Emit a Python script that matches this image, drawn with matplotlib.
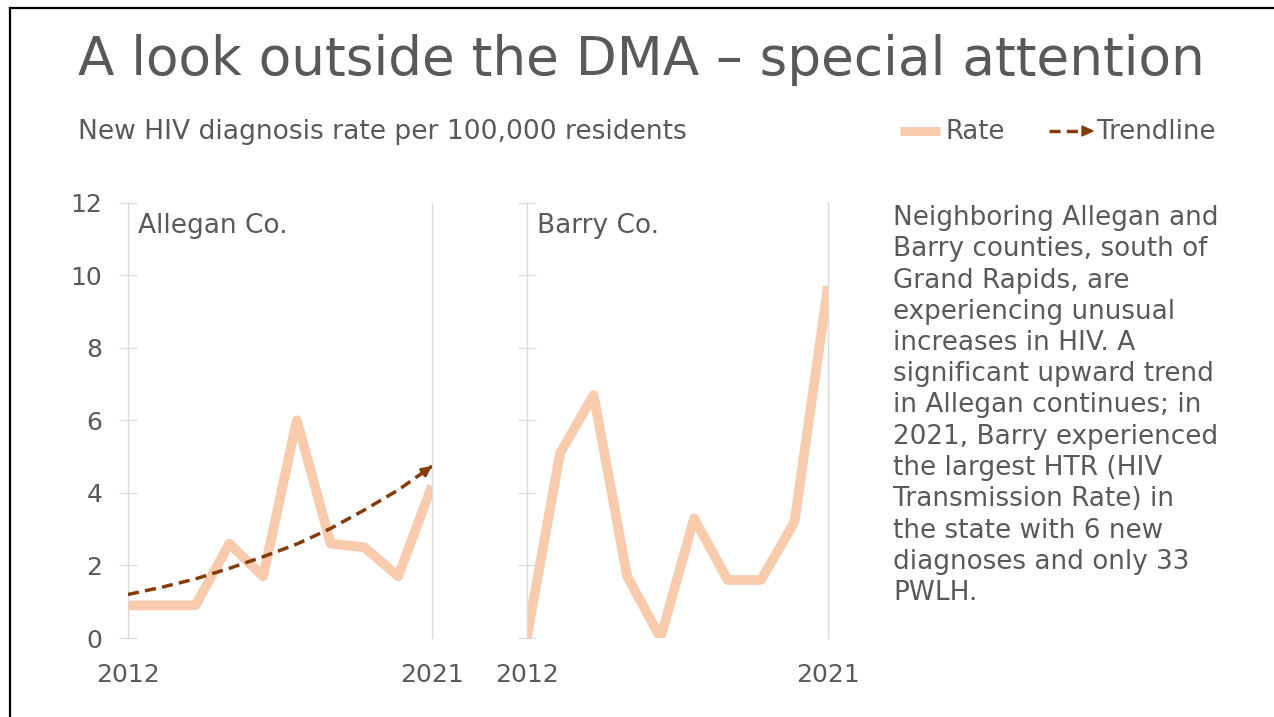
import matplotlib
matplotlib.use("Agg")
import matplotlib.pyplot as plt
from matplotlib.lines import Line2D

# ---- data ----
years = [2012, 2013, 2014, 2015, 2016, 2017, 2018, 2019, 2020, 2021]
allegan_rate = [0.9, 0.9, 0.9, 2.6, 1.7, 6.0, 2.6, 2.5, 1.7, 4.2]
allegan_trend = [1.20, 1.40, 1.63, 1.92, 2.24, 2.59, 3.02, 3.53, 4.08, 4.74]
barry_rate = [0.0, 5.1, 6.7, 1.7, 0.0, 3.3, 1.6, 1.6, 3.2, 9.7]
y_ticks = [0, 2, 4, 6, 8, 10, 12]
x_tick_labels = ["2012", "2021"]

title = "A look outside the DMA \u2013 special attention"
subtitle = "New HIV diagnosis rate per 100,000 residents"
panel_names = ["Allegan Co.", "Barry Co."]
body_lines = [
    "Neighboring Allegan and",
    "Barry counties, south of",
    "Grand Rapids, are",
    "experiencing unusual",
    "increases in HIV. A",
    "significant upward trend",
    "in Allegan continues; in",
    "2021, Barry experienced",
    "the largest HTR (HIV",
    "Transmission Rate) in",
    "the state with 6 new",
    "diagnoses and only 33",
    "PWLH.",
]

TXT = "#595959"
RATE_C = "#F8CBAD"
TREND_C = "#843C0C"
GRID_C = "#D9D9D9"

plt.rcParams["font.family"] = ["DejaVu Sans"]

W, H = 1274, 717
fig = plt.figure(figsize=(W / 100, H / 100), dpi=100)


def fx(px):
    return px / W


def fy(py):
    return 1 - py / H


# border (top and left)
fig.add_artist(Line2D([fx(10), 1.0], [fy(8), fy(8)], color="black", lw=1.6))
fig.add_artist(Line2D([fx(10), fx(10)], [fy(8), 0.0], color="black", lw=1.6))

fig.text(fx(78), fy(60), title, fontsize=38.3, color=TXT, ha="left", va="center")
fig.text(fx(78), fy(132), subtitle, fontsize=19.1, color=TXT, ha="left", va="center")

# legend
fig.add_artist(Line2D([fx(900), fx(940)], [fy(131), fy(131)], color=RATE_C, lw=6.5,
                      solid_capstyle="butt"))
fig.text(fx(945), fy(132), "Rate", fontsize=18.7, color=TXT, ha="left", va="center")
fig.add_artist(Line2D([fx(1049), fx(1084)], [fy(131), fy(131)], color=TREND_C, lw=2.5,
                      dashes=(3.2, 1.8)))
fig.patches.append(plt.Polygon([[fx(1082), fy(126)], [fx(1093), fy(131)], [fx(1082), fy(136)]],
                               closed=True, color=TREND_C, transform=fig.transFigure, figure=fig))
fig.text(fx(1097), fy(132), "Trendline", fontsize=18.7, color=TXT, ha="left", va="center")

y0_px, y12_px = 638, 202.7
panels = [
    (128, 432, allegan_rate, True),
    (526.7, 828, barry_rate, False),
]

for i, (xl, xr, vals, show_labels) in enumerate(panels):
    ax = fig.add_axes([fx(xl), fy(y0_px), (xr - xl) / W, (y0_px - y12_px) / H])
    ax.axvline(years[-1], color=GRID_C, lw=1, clip_on=False, zorder=1)
    ax.plot(years, vals, color=RATE_C, lw=7, solid_joinstyle="round",
            solid_capstyle="butt", zorder=2)
    if i == 0:
        ax.plot(years, allegan_trend, color=TREND_C, lw=2.5, dashes=(3.2, 1.8), zorder=3)
        ax.annotate("", xy=(years[-1], allegan_trend[-1]),
                    xytext=(years[-1] - 0.35, allegan_trend[-1] - 0.24),
                    arrowprops=dict(arrowstyle="-|>", color=TREND_C, lw=2.2,
                                    mutation_scale=14, shrinkA=0, shrinkB=0),
                    zorder=4)
    ax.set_xlim(years[0], years[-1])
    ax.set_ylim(y_ticks[0], y_ticks[-1])
    for s in ["top", "right", "bottom"]:
        ax.spines[s].set_visible(False)
    ax.spines["left"].set_color(GRID_C)
    ax.spines["left"].set_linewidth(1)
    ax.set_yticks(y_ticks)
    ax.tick_params(axis="y", direction="inout", length=13, width=0.8, color=GRID_C,
                   labelsize=18, labelcolor=TXT, pad=12, labelleft=show_labels)
    ax.set_xticks([years[0], years[-1]])
    ax.set_xticklabels(x_tick_labels)
    ax.tick_params(axis="x", length=0, labelsize=18, labelcolor=TXT, pad=18)
    ax.grid(False)
    ax.set_facecolor("none")
    ax.text(0.033, 0.947, panel_names[i], transform=ax.transAxes,
            fontsize=19, color=TXT, ha="left", va="center")

# body text
for k, line in enumerate(body_lines):
    fig.text(fx(893), fy(218 + 31.25 * k), line, fontsize=18.9, color=TXT,
             ha="left", va="center")

fig.savefig("out.png", dpi=100)
